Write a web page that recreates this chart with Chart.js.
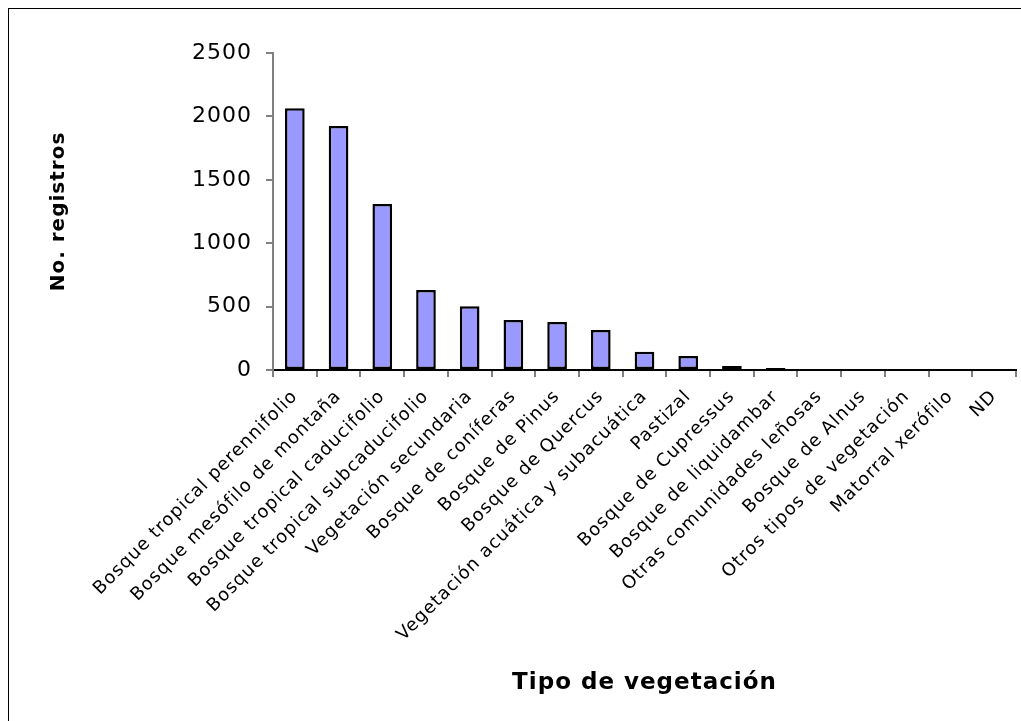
<!DOCTYPE html>
<html>
<head>
<meta charset="utf-8">
<script src="https://cdn.jsdelivr.net/npm/chart.js@4/dist/chart.umd.min.js"></script>
<style>
    html, body { margin: 0; padding: 0; background: #fff; overflow: hidden; }
    #wrap { position: relative; width: 1021px; height: 721px; }
    #frame { position: absolute; left: 8px; top: 8px; width: 1100px; height: 800px; border: 1px solid #000; }
    #chart { position: absolute; left: 0; top: 0; }
</style>
</head>
<body>
<div id="wrap">
    <div id="frame"></div>
    <canvas id="chart" width="1021" height="721"></canvas>
</div>
<script>
(function app() {

    const vegetationTypes = [
        'Bosque tropical perennifolio',
        'Bosque mesófilo de montaña',
        'Bosque tropical caducifolio',
        'Bosque tropical subcaducifolio',
        'Vegetación secundaria',
        'Bosque de coníferas',
        'Bosque de Pinus',
        'Bosque de Quercus',
        'Vegetación acuática y subacuática',
        'Pastizal',
        'Bosque de Cupressus',
        'Bosque de liquidambar',
        'Otras comunidades leñosas',
        'Bosque de Alnus',
        'Otros tipos de vegetación',
        'Matorral xerófilo',
        'ND'
    ];
    const recordCounts = [2065, 1925, 1310, 630, 503, 395, 379, 316, 144, 110, 32, 15, 0, 0, 0, 0, 0];
    const yTicks = [0, 500, 1000, 1500, 2000, 2500];

    Chart.defaults.font.family = "'DejaVu Sans', sans-serif";
    Chart.defaults.color = '#000';

    // the original renders its text rather wide, so space the letters a little
    const wideText = {
        id: 'wideText',
        beforeUpdate: chart => { chart.ctx.letterSpacing = '1px'; },
        beforeDraw: chart => { chart.ctx.letterSpacing = '1px'; }
    };

    const context = document.getElementById('chart');
    new Chart(context, {
        type: 'bar',
        data: {
            labels: vegetationTypes,
            datasets: [{
                data: recordCounts,
                backgroundColor: '#9999FF',
                borderColor: '#000',
                borderWidth: 2.5,
                borderSkipped: false,
                barPercentage: 0.45,
                categoryPercentage: 1
            }]
        },
        options: {
            responsive: false,
            animation: false,
            layout: { padding: { top: 53, right: 5, left: 0, bottom: 0 } },
            plugins: {
                legend: { display: false },
                tooltip: { enabled: false }
            },
            scales: {
                x: {
                    offset: true,
                    grid: {
                        offset: true,
                        drawOnChartArea: false,
                        color: '#808080',
                        lineWidth: 2,
                        tickLength: 7
                    },
                    border: { color: '#000', width: 2 },
                    ticks: {
                        autoSkip: false,
                        minRotation: 45,
                        maxRotation: 45,
                        padding: 9,
                        font: { size: 18 }
                    },
                    title: {
                        display: true,
                        text: 'Tipo de vegetación',
                        font: { size: 23, weight: 'bold' },
                        padding: { top: 0, bottom: 24 }
                    },
                    afterFit: scale => { scale.height = 351; }
                },
                y: {
                    min: 0,
                    max: 2500,
                    afterBuildTicks: scale => { scale.ticks = yTicks.map(v => ({ value: v })); },
                    grid: {
                        drawOnChartArea: false,
                        color: '#808080',
                        lineWidth: 2,
                        tickLength: 7
                    },
                    border: { color: '#808080', width: 2 },
                    ticks: {
                        padding: 14,
                        font: { size: 22 },
                        callback: value => String(value)
                    },
                    title: {
                        display: true,
                        text: 'No. registros',
                        font: { size: 20, weight: 'bold' },
                        padding: { top: 47, bottom: 0 }
                    },
                    afterFit: scale => { scale.width = 273; }
                }
            }
        },
        plugins: [wideText]
    });
})();
</script>
</body>
</html>
